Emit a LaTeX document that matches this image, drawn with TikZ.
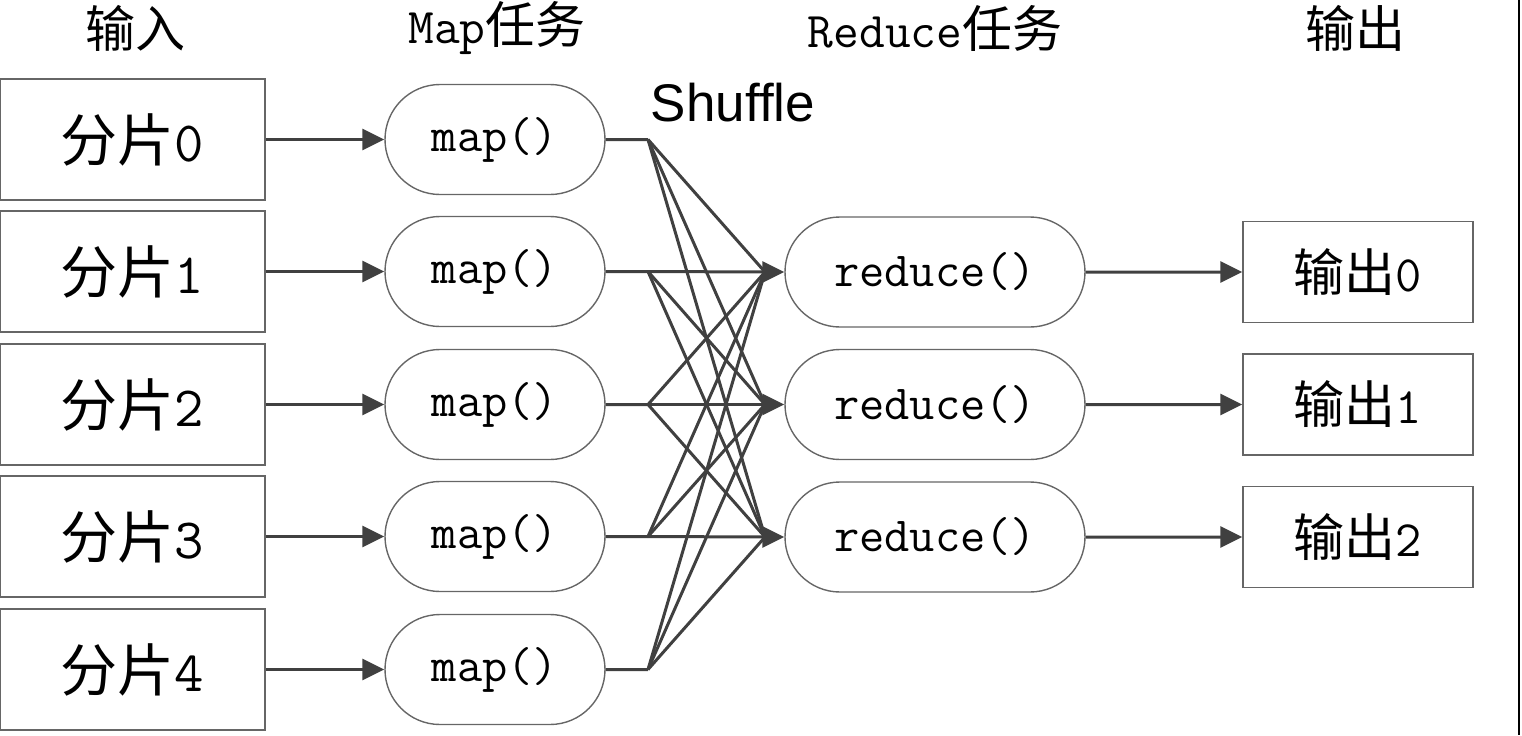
\documentclass[tikz,border=0pt]{standalone}
\usepackage{fontspec}
\newfontfamily\zhfont{Noto Sans CJK SC}
\newfontfamily\shfont{Liberation Sans}
\usepackage{tikz}
\usetikzlibrary{arrows.meta}
\usetikzlibrary{shapes.misc}

\begin{document}
\begin{tikzpicture}[x=0.5pt, y=-0.5pt,
    box/.style={draw=black!60, line width=0.7pt, inner sep=0pt},
    pill/.style={box, rounded rectangle, minimum height=55pt, font=\fontsize{24.5}{28}\selectfont\ttfamily},
    link/.style={draw=black!75, line width=1.5pt},
    arr/.style={link, -{Triangle[length=11pt, width=10.5pt]}},
    head/.style={font=\fontsize{25}{30}\selectfont}]
    \useasboundingbox (0, 0) rectangle (1522, 735);
    \draw[line width=1pt] (1519, 0) -- (1519, 735);
    \node[head] (hin) at (135, 28) {\zhfont 输入};
    \node[head] (hmap) at (497, 28) {\ttfamily Map\zhfont 任务};
    \node[head] (hred) at (935, 28) {\ttfamily Reduce\zhfont 任务};
    \node[head] (hout) at (1355, 28) {\zhfont 输出};
    \node[font=\shfont\fontsize{26.5}{30}\selectfont] (shuf) at (733, 103) {Shuffle};
    \foreach \i/\y in {0/139.5, 1/271.5, 2/404.5, 3/536.5, 4/669.5} {
        \node[box, minimum width=132.5pt, minimum height=60.5pt, font=\fontsize{28.5}{32}\selectfont] (in\i) at (132.5, \y) {\zhfont 分片\ttfamily\i};
        \node[pill, minimum width=110pt] (map\i) at (495, \y) {map()};
        \coordinate (sh\i) at (648, \y);
        \draw[arr] (in\i) -- (map\i);
        \draw[link] (map\i) -- (sh\i);
    }
    \foreach \j/\y in {0/272, 1/404.5, 2/537} {
        \node[pill, minimum width=150pt] (red\j) at (935, \y) {reduce()};
        \node[box, minimum width=115pt, minimum height=50.5pt, font=\fontsize{25.5}{30}\selectfont] (out\j) at (1358, \y) {\zhfont 输出\ttfamily\j};
        \coordinate (rb\j) at (765, \y);
        \foreach \i in {0,...,4}
            \draw[link] (sh\i) -- (rb\j);
        \draw[arr] (rb\j) -- (red\j);
        \draw[arr] (red\j) -- (out\j);
    }
\end{tikzpicture}
\end{document}
